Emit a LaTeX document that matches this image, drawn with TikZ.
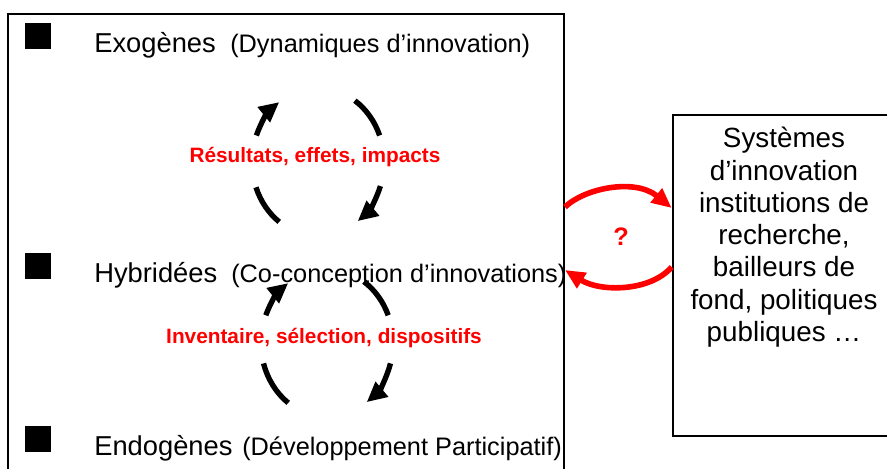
\documentclass[tikz,border=0pt]{standalone}
\usepackage{fontspec}
\setmainfont{Liberation Sans}
\usetikzlibrary{arrows.meta}
\definecolor{pptred}{RGB}{255,0,0}
\begin{document}
\begin{tikzpicture}[x=0.75pt,y=-0.75pt,
  sq/.style={fill=black,draw=none,minimum size=19.5pt,inner sep=0pt},
  mainlbl/.style={anchor=base west,inner sep=0pt,font=\fontsize{20.5pt}{24pt}\selectfont},
  sublbl/.style={anchor=base west,inner sep=0pt,font=\fontsize{19pt}{23pt}\selectfont},
  redlbl/.style={anchor=base,inner sep=0pt,text=pptred,font=\bfseries\fontsize{15.6pt}{19pt}\selectfont},
  blackline/.style={line width=4pt},
  blackarc/.style={line width=4pt,-{Triangle[length=15pt,width=14pt]}},
  redarc/.style={pptred,line width=4.2pt,-{Triangle[length=15pt,width=13pt]}},
  boxframe/.style={draw,line width=1.5pt,inner sep=0pt,fill=none},
  systext/.style={anchor=north,inner sep=0pt,align=center,font=\fontsize{20.85pt}{24.2pt}\selectfont}
]
\useasboundingbox (0,0) rectangle (887,468);
\clip (0,0) rectangle (887,468);
\fill[white] (0,0) rectangle (887,468);

% frames
\node[boxframe,minimum width=417pt,minimum height=352.5pt] (lbox) at (286,249) {};
\node[boxframe,minimum width=170.5pt,minimum height=240.75pt] (rbox) at (786.35,275.5) {};

% bullets
\node[sq] (sq1) at (38,36) {};
\node[sq] (sq2) at (38,266) {};
\node[sq] (sq3) at (38,439) {};

% level labels
\node[mainlbl] (exo) at (94,52) {Exogènes};
\node[sublbl] (exop) at (230,52) {(Dynamiques d’innovation)};
\node[mainlbl] (hyb) at (94,282) {Hybridées};
\node[sublbl] (hybp) at (231,282) {(Co-conception d’innovations)};
\node[mainlbl] (endo) at (94,455) {Endogènes};
\node[sublbl] (endop) at (242,455) {(Développement Participatif)};

% red labels
\node[redlbl] (res) at (315,162) {Résultats, effets, impacts};
\node[redlbl] (inv) at (324,343) {Inventaire, sélection, dispositifs};
\node[redlbl,font=\bfseries\fontsize{19pt}{22pt}\selectfont] (qm) at (621,245) {?};

% upper cycle
\coordinate (c1) at (318,162);
\draw[blackline] ([shift={(126:66 and 74)}]c1) arc[start angle=126,end angle=160,x radius=66,y radius=74];
\draw[blackarc] ([shift={(201:66 and 74)}]c1) arc[start angle=201,end angle=234,x radius=66,y radius=74];
\draw[blackline] ([shift={(-56:66 and 74)}]c1) arc[start angle=-56,end angle=-21,x radius=66,y radius=74];
\draw[blackarc] ([shift={(19:66 and 74)}]c1) arc[start angle=19,end angle=53,x radius=66,y radius=74];

% lower cycle
\coordinate (c2) at (327,343);
\draw[blackline] ([shift={(126:66 and 74)}]c2) arc[start angle=126,end angle=164,x radius=66,y radius=74];
\draw[blackarc] ([shift={(202:66 and 74)}]c2) arc[start angle=202,end angle=234,x radius=66,y radius=74];
\draw[blackline] ([shift={(-56:66 and 74)}]c2) arc[start angle=-56,end angle=-22,x radius=66,y radius=74];
\draw[blackarc] ([shift={(16:66 and 74)}]c2) arc[start angle=16,end angle=53,x radius=66,y radius=74];

% red exchange arrows
\draw[redarc] (lbox.east |- 0,207) .. controls (585,188) and (635,178) .. (rbox.west |- 0,208);
\draw[redarc] (rbox.west |- 0,267) .. controls (650,292) and (600,292) .. (lbox.east |- 0,270);

% right box text
\node[systext] (sys) at (784,127) {Systèmes\\d’innovation\\institutions de\\recherche,\\bailleurs de\\fond, politiques\\publiques …};
\end{tikzpicture}
\end{document}
